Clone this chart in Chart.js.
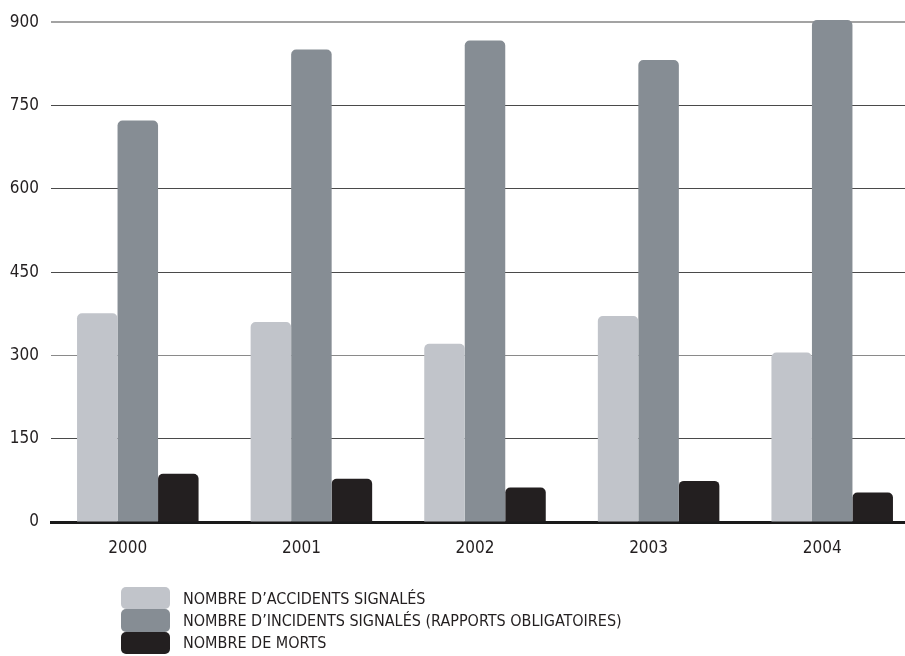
<!DOCTYPE html>
<html>
  <head>
    <title>Accidents, incidents et morts 2000-2004</title>
    <script src="https://cdn.jsdelivr.net/npm/chart.js"></script>
    <style>
      html, body { margin: 0; padding: 0; background: #fff; overflow: hidden; }
      #wrap { position: relative; width: 919px; height: 656px; }
      #legend { position: absolute; left: 121px; top: 587px; font-family: "Liberation Sans Narrow", "DejaVu Sans Condensed", sans-serif; font-size: 16px; color: #231f20; }
      #legend .row { display: flex; align-items: center; height: 22.3px; }
      #legend .box { width: 49px; height: 22.3px; border-radius: 5px; margin-right: 13px; }
    </style>
  </head>
  <body>
    <div id="wrap">
      <canvas id="bar-chart"></canvas>
      <div id="legend"></div>
    </div>
    <script>
      // Data
      const years = ["2000", "2001", "2002", "2003", "2004"];
      const accidents = [376, 360, 321, 371, 305];
      const incidents = [723, 851, 867, 832, 904];
      const deaths = [87, 78, 62, 74, 53];
      const yTicks = [0, 150, 300, 450, 600, 750, 900];

      const seriesNames = [
        "NOMBRE D\u2019ACCIDENTS SIGNALÉS",
        "NOMBRE D\u2019INCIDENTS SIGNALÉS (RAPPORTS OBLIGATOIRES)",
        "NOMBRE DE MORTS"
      ];
      const colors = ["#c1c4ca", "#868d94", "#231f20"];

      const font = "'Liberation Sans Narrow', 'DejaVu Sans Condensed', sans-serif";

      const makeSet = (i, values) => ({
        label: seriesNames[i],
        data: values,
        backgroundColor: colors[i],
        borderWidth: 0,
        borderRadius: { topLeft: 5, topRight: 5 },
        borderSkipped: "bottom",
        categoryPercentage: 0.7,
        barPercentage: 1.0,
        clip: false
      });

      const ctx = document.getElementById("bar-chart").getContext("2d");
      const chart = new Chart(ctx, {
        type: "bar",
        data: {
          labels: years,
          datasets: [makeSet(0, accidents), makeSet(1, incidents), makeSet(2, deaths)]
        },
        options: {
          responsive: true,
          maintainAspectRatio: false,
          animation: false,
          layout: { padding: { top: 21, right: 0, bottom: 0, left: 0 } },
          plugins: {
            legend: { display: false },
            tooltip: { enabled: false }
          },
          scales: {
            x: {
              grid: { display: false, drawTicks: false },
              border: { display: true, color: "#1a1a1a", width: 3 },
              ticks: {
                color: "#231f20",
                font: { family: font, size: 17 },
                padding: 16,
                labelOffset: -10
              },
              afterFit: s => { s.height = 134; }
            },
            y: {
              min: 0,
              max: 900,
              afterBuildTicks: s => { s.ticks = yTicks.map(v => ({ value: v })); },
              grid: {
                drawTicks: false,
                color: c => {
                  const v = c.tick ? c.tick.value : null;
                  if (v === 0) return "rgba(0,0,0,0)";
                  if (v === 900) return "#a3a3a3";
                  if (v === 300) return "#8a8a8a";
                  return "#4a4a4a";
                },
                lineWidth: c => (c.tick && c.tick.value === 900 ? 2 : 1)
              },
              border: { display: false },
              ticks: {
                color: "#231f20",
                font: { family: font, size: 17 },
                padding: 12
              },
              afterFit: s => { s.width = 51; }
            }
          }
        }
      });

      // Stacked legend below the chart, built from the datasets
      const legend = document.getElementById("legend");
      chart.data.datasets.forEach(ds => {
        const row = document.createElement("div");
        row.className = "row";
        const box = document.createElement("span");
        box.className = "box";
        box.style.background = ds.backgroundColor;
        const txt = document.createElement("span");
        txt.textContent = ds.label;
        row.appendChild(box);
        row.appendChild(txt);
        legend.appendChild(row);
      });
    </script>
  </body>
</html>
